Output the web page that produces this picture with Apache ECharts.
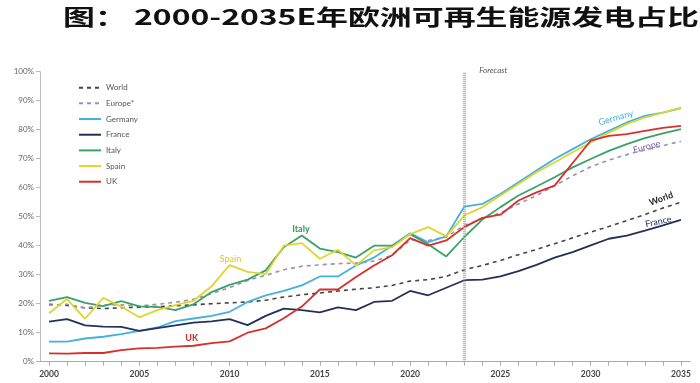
<!DOCTYPE html>
<html><head><meta charset="utf-8">
<script src="https://cdn.jsdelivr.net/npm/echarts@6/dist/echarts.min.js"></script>
<style>html,body{margin:0;padding:0;background:#fff}#c{width:700px;height:383px}</style>
</head><body><div id="c"></div>
<script>
// ---- data ----
const years = ['2000','2001','2002','2003','2004','2005','2006','2007','2008','2009',
  '2010','2011','2012','2013','2014','2015','2016','2017','2018','2019',
  '2020','2021','2022','2023','2024','2025','2026','2027','2028','2029',
  '2030','2031','2032','2033','2034','2035'];
const world = [19.8,19.4,18.6,18.3,18.6,18.8,19.0,19.3,19.6,20.0,
  20.3,20.6,21.2,22.3,23.1,23.7,24.4,25.0,25.5,26.3,
  27.8,28.3,29.4,31.7,33.2,34.9,36.9,38.7,40.7,42.7,
  44.7,46.6,48.7,50.7,53.0,55.0];
const europe = [19.5,19.8,18.5,19.5,19.6,19.2,19.8,20.5,21.5,23.5,
  25.5,28.0,29.8,31.7,32.9,33.4,33.8,34.0,34.7,36.7,
  42.0,41.8,43.0,47.0,49.3,51.3,54.4,57.3,60.7,64.1,
  67.2,69.5,71.4,73.0,74.5,76.0];
const germany = [6.9,6.9,8.0,8.6,9.5,10.6,11.8,14.0,14.9,15.8,
  17.2,20.6,22.9,24.4,26.3,29.4,29.4,33.2,35.9,40.0,
  44.3,41.2,43.2,53.5,54.4,57.8,61.9,65.9,69.9,73.3,
  76.7,79.6,82.5,84.8,85.9,87.4];
const france = [13.8,14.7,12.5,12.1,12.0,10.6,11.6,12.5,13.5,13.9,
  14.7,12.6,15.8,18.3,17.8,17.0,18.7,17.8,20.6,21.0,
  24.4,22.9,25.5,28.1,28.3,29.4,31.2,33.4,35.9,37.8,
  40.1,42.4,43.5,45.2,47.0,48.9];
const italy = [21.0,22.3,20.3,19.2,20.9,19.1,18.9,17.8,19.8,24.0,
  26.5,28.3,31.5,39.5,43.5,39.0,37.8,35.9,40.0,40.0,
  44.0,40.5,36.3,43.0,49.0,53.3,57.3,60.4,63.6,67.0,
  69.9,72.7,75.0,77.1,78.7,80.2];
const spain = [16.7,21.6,14.8,22.0,19.0,15.3,17.8,19.5,21.0,26.0,
  33.3,31.0,30.2,40.0,40.9,35.5,38.6,33.2,38.4,39.5,
  44.0,46.4,43.2,50.4,53.3,57.3,61.3,65.3,68.7,72.2,
  75.6,79.0,81.9,84.2,85.9,87.6];
const uk = [2.9,2.8,3.0,3.0,4.0,4.6,4.8,5.2,5.5,6.4,
  7.0,10.0,11.5,15.0,19.0,24.9,24.9,29.2,33.2,36.7,
  42.6,40.0,41.8,46.4,49.6,50.7,55.6,58.4,60.7,68.5,
  76.2,77.9,78.5,79.6,80.6,81.3];
const forecastYear = '2023';
const titleText = '图： 2000-2035E年欧洲可再生能源发电占比';
// annotations: [text, yearPosition, value, color, rotationDeg, weight, style]
const notes = [
  ['Spain', 2010.05, 35.3, '#d8cc1c', 0, 'normal', 'normal'],
  ['Italy', 2013.95, 45.8, '#2f9a5e', 0, 'bold', 'normal'],
  ['UK', 2007.9, 8.0, '#d42a26', 0, 'bold', 'normal'],
  ['Germany', 2031.4, 84.1, '#45b1df', 16, 'normal', 'normal'],
  ['Europe', 2033.1, 74.1, '#7a5ca8', 15, 'normal', 'normal'],
  ['World', 2033.9, 56.2, '#222222', 20, 'bold', 'normal'],
  ['France', 2033.75, 48.3, '#23315a', 12, 'normal', 'normal'],
  ['Forecast', 2024.6, 100.4, '#555555', 0, 'normal', 'italic']
];

const FONT = 'Lato, "Noto Sans", sans-serif';
function lineSeries(name, data, color, dashed) {
  return {
    name, type: 'line', data, symbol: 'none', smooth: false,
    lineStyle: { color, width: dashed ? 1.6 : 1.8, type: dashed ? [4, 4] : 'solid' },
    itemStyle: { color },
    emphasis: { disabled: true }
  };
}
const series = [
  lineSeries('World', world, '#444444', true),
  lineSeries('Europe*', europe, '#9a92ad', true),
  lineSeries('Germany', germany, '#45b1df', false),
  lineSeries('France', france, '#23315a', false),
  lineSeries('Italy', italy, '#3aa168', false),
  lineSeries('Spain', spain, '#e0d52e', false),
  lineSeries('UK', uk, '#d7302b', false)
];
series[0].markLine = {
  symbol: 'none', silent: true, label: { show: false },
  lineStyle: { color: '#a8a8a8', width: 3, type: [1, 1] },
  data: [{ xAxis: forecastYear }]
};

const chart = echarts.init(document.getElementById('c'));
chart.setOption({
  animation: false,
  backgroundColor: '#fff',
  grid: { left: 40, right: 10, top: 71.7, bottom: 21.3 },
  legend: {
    orient: 'vertical', left: 73, top: 77.7,
    itemWidth: 22, itemHeight: 10, itemGap: 5.67,
    itemStyle: { opacity: 0 },
    textStyle: { fontSize: 8, color: '#555', fontFamily: FONT, lineHeight: 10 },
    data: series.map(s => s.name)
  },
  xAxis: {
    type: 'category', data: years, boundaryGap: true,
    axisLine: { lineStyle: { color: '#aaa' } },
    axisTick: { show: true, alignWithLabel: true, interval: 0, length: 4, lineStyle: { color: '#aaa' } },
    axisLabel: { interval: 4, color: '#444', fontSize: 8.5, fontWeight: 'bold', margin: 8, fontFamily: FONT },
    splitLine: { show: false }
  },
  yAxis: {
    type: 'value', min: 0, max: 100, interval: 10,
    splitLine: { show: false },
    axisLine: { show: true, lineStyle: { color: '#bbb' } },
    axisTick: { show: true, length: 4, lineStyle: { color: '#bbb' } },
    axisLabel: { formatter: '{value}%', fontSize: 8, color: '#666', margin: 6, fontFamily: FONT }
  },
  series
});

function px(yearPos, value) {
  const i = Math.floor(yearPos - 2000);
  const f = yearPos - 2000 - i;
  const a = chart.convertToPixel({ gridIndex: 0 }, [i, value]);
  const b = chart.convertToPixel({ gridIndex: 0 }, [i + 1 <= 35 ? i + 1 : i, value]);
  const step = (i + 1 <= 35) ? (b[0] - a[0]) : (a[0] - chart.convertToPixel({ gridIndex: 0 }, [i - 1, value])[0]);
  return [a[0] + f * step, a[1]];
}
const graphics = [{
  type: 'text', x: 63, y: 6, scaleX: 1.45,
  style: { text: titleText, font: 'bold 22px "Noto Sans CJK SC"', fill: '#111', verticalAlign: 'top' }
}];
notes.forEach(n => {
  const p = px(n[1], n[2]);
  graphics.push({
    type: 'text', x: p[0], y: p[1], rotation: n[4] * Math.PI / 180,
    style: {
      text: n[0], fill: n[3], align: 'center', verticalAlign: 'middle',
      font: n[6] + ' ' + n[5] + ' ' + (n[0] === 'Forecast' ? 8 : 9) + 'px ' + FONT
    }
  });
});
chart.setOption({ graphic: graphics });
</script>
</body></html>
